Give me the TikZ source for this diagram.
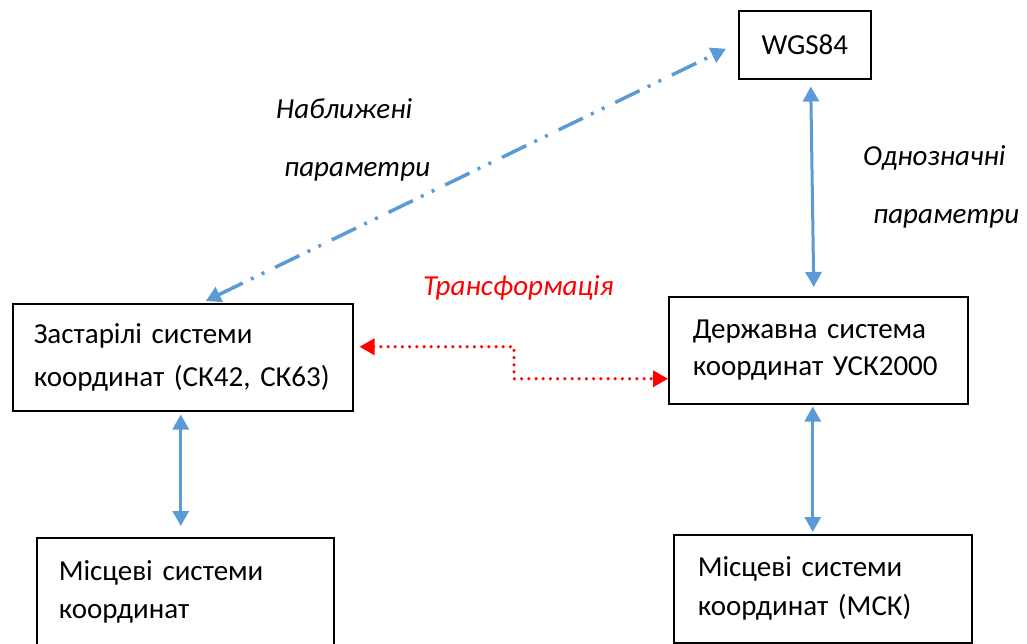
\documentclass[tikz,border=0pt]{standalone}
\usepackage{fontspec}
\setmainfont{Carlito}
\usetikzlibrary{arrows.meta,calc}
\definecolor{arrblue}{HTML}{5B9BD5}
\definecolor{arrred}{HTML}{FF0000}
\begin{document}
\begin{tikzpicture}[x=1pt,y=-1pt,
  box/.style={draw=black, line width=1.5pt, anchor=north west, align=left, inner ysep=0pt},
  lbl/.style={inner sep=0pt, anchor=base west, font=\fontsize{29}{35}\selectfont\itshape},
  blinks/.style={draw=arrblue, line width=3pt, arrows={Triangle[length=15pt,width=16pt]-Triangle[length=15pt,width=16pt]}},
  ddlink/.style={draw=arrblue, line width=3.5pt, dash pattern=on 27pt off 9pt on 3pt off 9pt on 3pt off 12pt, arrows={Triangle[length=15pt,width=16pt]-Triangle[length=15pt,width=16pt]}},
  redlink/.style={draw=arrred, line width=3.5pt, line cap=round, dash pattern=on 0pt off 7.2pt, arrows={Triangle[length=15pt,width=16pt]-Triangle[length=15pt,width=16pt]}}
]
\useasboundingbox (0,0) rectangle (1027,643);

% boxes
\node[box, inner xsep=0pt, align=center, minimum width=132pt, minimum height=68pt, font=\fontsize{29}{35}\selectfont] (wgs) at (738,10) {WGS84};
\node[box, inner xsep=21pt, text width=298pt, minimum height=107pt, font=\fontsize{29}{43}\selectfont] (old) at (12,303) {Застарілі системи\\координат (СК42, СК63)};
\node[box, inner xsep=24pt, text width=251pt, minimum height=107pt, font=\fontsize{29}{37}\selectfont] (state) at (668,296) {Державна система\\координат УСК2000};
\node[box, inner xsep=22pt, text width=253pt, minimum height=108pt, font=\fontsize{29}{38.5}\selectfont] (loc1) at (36,537) {Місцеві системи\\координат};
\node[box, inner xsep=24pt, text width=250pt, minimum height=108pt, font=\fontsize{29}{39}\selectfont] (msk) at (673,534) {Місцеві системи\\координат (МСК)};

% labels
\node[lbl] (l1) at (276,118) {Наближені};
\node[lbl] (l2) at (284,176) {параметри};
\node[lbl] (l3) at (863,165) {Однозначні};
\node[lbl] (l4) at (873,223) {параметри};
\node[lbl, text=arrred] (l5) at (423,295) {Трансформація};

% connectors
\draw[blinks] ($(old.south)+(-2,3)$) -- ($(loc1.north)+(-4.5,-11)$);
\draw[blinks] ($(wgs.south)+(6,7)$) -- ($(state.north)+(-4.5,-9)$);
\draw[blinks] ($(state.south)+(-5.5,2)$) -- ($(msk.north)+(-10,-2)$);
\draw[ddlink] ($(old.north)+(23,-2)$) -- ($(wgs.west)+(-12,4)$);
\coordinate (rm) at (514,0);
\coordinate (ra) at ($(old.east)+(6,-10.5)$);
\coordinate (rb) at ($(state.west)+(0,28.5)$);
\draw[redlink] (ra) -- (ra -| rm) -- (rm |- rb) -- (rb);
\end{tikzpicture}
\end{document}
